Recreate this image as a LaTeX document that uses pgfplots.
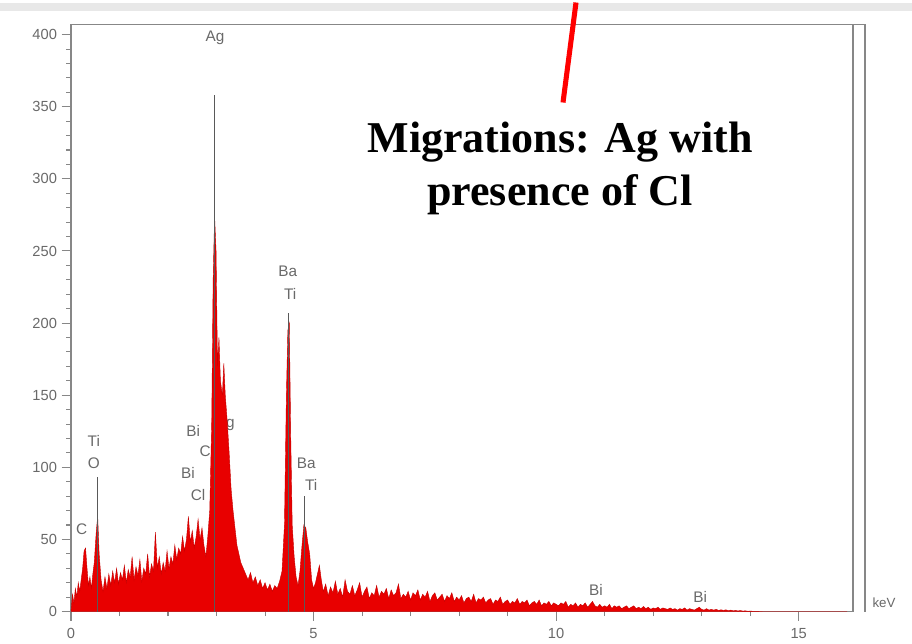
\documentclass[border=0pt]{standalone}
\usepackage{pgfplots}
\pgfplotsset{compat=1.18}
\usepackage{fontspec}
\setmainfont{Liberation Serif}
\newfontfamily\arial{Liberation Sans}
\definecolor{lblc}{RGB}{105,105,105}
\definecolor{axc}{RGB}{135,135,135}
\definecolor{spec}{RGB}{232,0,0}
\tikzset{peaklbl/.style={font=\arial\fontsize{11.5}{12}\selectfont, text=lblc, inner sep=0pt}}
\pgfplotstableread{
x y
0.00 0
0.03 12
0.06 6
0.09 16
0.12 10
0.15 20
0.18 14
0.21 22
0.24 30
0.27 42
0.30 44
0.33 30
0.36 18
0.39 24
0.42 16
0.45 26
0.48 34
0.52 55
0.55 66
0.58 40
0.62 22
0.66 14
0.70 24
0.74 16
0.78 26
0.82 18
0.86 28
0.90 20
0.94 30
0.98 19
1.02 27
1.06 22
1.10 32
1.14 20
1.18 29
1.22 24
1.26 38
1.30 22
1.34 31
1.38 25
1.42 36
1.46 21
1.50 30
1.54 26
1.58 40
1.62 24
1.66 33
1.70 28
1.74 55
1.78 30
1.82 38
1.86 26
1.90 34
1.94 28
1.98 42
2.02 30
2.06 38
2.10 33
2.14 46
2.18 36
2.22 44
2.26 40
2.30 52
2.34 42
2.38 50
2.42 66
2.46 48
2.50 56
2.54 44
2.58 52
2.62 64
2.66 50
2.70 58
2.74 46
2.78 38
2.82 52
2.86 70
2.90 130
2.93 230
2.96 274
2.99 250
3.02 170
3.05 190
3.08 160
3.12 150
3.15 172
3.18 150
3.22 132
3.26 110
3.30 85
3.34 70
3.38 58
3.42 46
3.46 40
3.50 34
3.55 30
3.60 26
3.65 22
3.70 27
3.75 20
3.80 24
3.85 18
3.90 22
3.95 16
4.00 20
4.05 15
4.10 19
4.15 14
4.20 18
4.25 16
4.30 21
4.35 28
4.40 60
4.44 150
4.47 195
4.50 200
4.53 120
4.56 60
4.60 38
4.64 24
4.68 18
4.72 28
4.76 45
4.80 60
4.84 58
4.88 48
4.92 40
4.96 22
5.00 16
5.04 20
5.08 26
5.12 32
5.16 22
5.20 14
5.25 19
5.30 11
5.35 17
5.40 13
5.45 21
5.50 12
5.55 16
5.60 10
5.65 22
5.70 14
5.75 12
5.80 18
5.85 11
5.90 15
5.95 20
6.00 10
6.05 14
6.10 17
6.15 9
6.20 13
6.25 11
6.30 18
6.35 10
6.40 14
6.45 12
6.50 16
6.55 9
6.60 15
6.65 11
6.70 13
6.75 19
6.80 9
6.85 12
6.90 10
6.95 14
7.00 8
7.05 13
7.10 11
7.15 15
7.20 8
7.25 12
7.30 10
7.35 14
7.40 7
7.45 11
7.50 13
7.55 8
7.60 10
7.65 12
7.70 7
7.75 11
7.80 9
7.85 13
7.90 7
7.95 10
8.00 8
8.05 11
8.10 6
8.15 9
8.20 10
8.25 7
8.30 12
8.35 6
8.40 9
8.45 8
8.50 10
8.55 6
8.60 8
8.65 9
8.70 5
8.75 8
8.80 7
8.85 10
8.90 5
8.95 7
9.00 8
9.05 5
9.10 7
9.15 6
9.20 9
9.25 5
9.30 7
9.35 6
9.40 8
9.45 4
9.50 6
9.55 7
9.60 5
9.65 8
9.70 4
9.75 6
9.80 5
9.85 7
9.90 4
9.95 6
10.00 5
10.05 4
10.10 6
10.15 5
10.20 7
10.25 3
10.30 5
10.35 4
10.40 6
10.45 3
10.50 5
10.55 4
10.60 6
10.65 3
10.70 5
10.75 7
10.80 4
10.85 3
10.90 5
10.95 3
11.00 4
11.05 3
11.10 5
11.15 2
11.20 4
11.25 3
11.30 4
11.35 2
11.40 3
11.45 4
11.50 2
11.55 3
11.60 4
11.65 2
11.70 3
11.75 2
11.80 3.5
11.85 2
11.90 3
11.95 1.5
12.00 2.5
12.05 2
12.10 3
12.15 1.5
12.20 2.5
12.25 2
12.30 1.5
12.35 2.5
12.40 1.5
12.45 2
12.50 1
12.55 2
12.60 1.5
12.65 2.5
12.70 1
12.75 2
12.80 1.5
12.85 1
12.90 2
12.95 3
13.00 1.5
13.05 1
13.10 2
13.15 1
13.20 1.5
13.25 1
13.30 1.5
13.35 0.8
13.40 1.2
13.45 0.8
13.50 1.2
13.55 0.6
13.60 1
13.65 0.5
13.70 0.8
13.75 0.4
13.80 0.7
13.85 0.3
13.90 0.5
13.95 0.2
14.00 0.3
14.10 0.1
14.30 0
16.00 0
}\spectrum
\begin{document}
\begin{tikzpicture}[x=0.75pt,y=0.75pt]
\path (0,0) rectangle (912,640);
\fill[gray!18] (0,632) rectangle (912,640);
\begin{axis}[
 at={(53.25pt,23.25pt)}, anchor=south west,
 scale only axis, width=586.5pt, height=440.25pt,
 xmin=0, xmax=16.12, ymin=0, ymax=407,
 xtick={0,5,10,15}, minor x tick num=4,
 ytick={0,50,...,400}, minor y tick num=4,
 xtick pos=lower, ytick pos=left,
 tick align=outside,
 major tick length=7pt, minor tick length=3.5pt,
 axis line style={axc, line width=1.1pt},
 every tick/.style={axc, line width=0.8pt},
 /pgf/number format/assume math mode=true,
 tick label style={font=\arial\fontsize{11}{12}\selectfont, text=lblc},
 xticklabel style={yshift=-2pt},
 clip=false,
]
\node[peaklbl] at (axis cs:2.97,398) {Ag};
\node[peaklbl] at (axis cs:4.47,236) {Ba};
\node[peaklbl] at (axis cs:4.52,220) {Ti};
\node[peaklbl] at (axis cs:0.47,118.5) {Ti};
\node[peaklbl] at (axis cs:0.47,102.6) {O};
\node[peaklbl] at (axis cs:0.22,57) {C};
\node[peaklbl] at (axis cs:2.52,125.5) {Bi};
\node[peaklbl] at (axis cs:2.80,111) {Cl};
\node[peaklbl] at (axis cs:3.18,130) {Ag};
\node[peaklbl] at (axis cs:2.41,96) {Bi};
\node[peaklbl] at (axis cs:2.62,81) {Cl};
\node[peaklbl] at (axis cs:4.85,103) {Ba};
\node[peaklbl] at (axis cs:4.95,88) {Ti};
\node[peaklbl] at (axis cs:10.82,15) {Bi};
\node[peaklbl] at (axis cs:12.97,10) {Bi};
\addplot[fill=spec, draw=spec!85!black, line width=0.3pt] table[x=x,y=y] {\spectrum} \closedcycle;
\addplot[ycomb, no marks, draw=black!65, line width=0.7pt] coordinates {(0.55,93) (2.96,358) (4.49,207) (4.82,80)};
\end{axis}
\draw[axc, line width=1.1pt] (853,618) -- (865,618) -- (865,31);
\node[font=\arial\fontsize{10}{12}\selectfont, text=lblc] at (884,40) {keV};
\draw[red, line width=3.8pt] (576,640) -- (563,540);
\node[font=\bfseries\fontsize{33}{40}\selectfont, align=center] at (560,474) {Migrations: Ag with\\presence of Cl};
\end{tikzpicture}
\end{document}
